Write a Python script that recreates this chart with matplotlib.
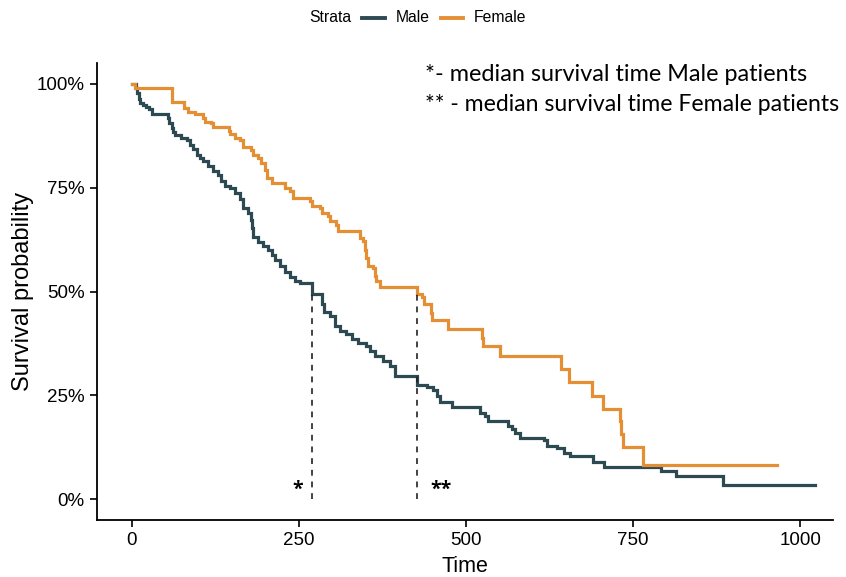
import matplotlib
matplotlib.use("Agg")
import matplotlib.pyplot as plt
from matplotlib.lines import Line2D

# ---- data ----
male_time = [0, 6, 8, 10.5, 12, 16.5, 21, 25.5, 29.5, 54, 56, 59.5, 62, 64.5, 73.5, 82, 87, 92, 97, 102,
             107, 114, 122, 129, 134, 139, 147, 154, 162, 167, 174, 178, 180, 182, 189, 197, 204, 209, 214, 222,
             229, 237, 244, 251, 270, 284, 287, 296, 304, 311, 321, 329, 339, 351, 356, 364, 376, 386, 394, 427,
             442, 451, 456, 461, 479, 521, 528, 533, 563, 568, 573, 581, 616, 621, 636, 646, 656, 690, 707, 791,
             814, 884, 1022]
male_surv = [1.0, .990, .978, .964, .954, .950, .945, .940, .928, .918, .906, .894, .885, .877, .870, .864, .853, .844, .829, .822,
             .815, .803, .791, .781, .767, .755, .748, .736, .722, .702, .690, .673, .654, .630, .618, .609, .601, .589, .577, .561,
             .547, .536, .525, .520, .495, .471, .450, .440, .418, .405, .397, .385, .377, .370, .356, .344, .332, .320, .297, .276,
             .269, .262, .248, .234, .222, .208, .200, .188, .176, .168, .160, .148, .143, .129, .124, .112, .103, .090, .078, .068,
             .055, .035, .035]

female_time = [0, 4.5, 60, 78, 84, 95, 107, 109, 119, 122, 145, 147.5, 154, 162, 167, 179, 182, 189, 194, 199,
               202, 209, 229, 236.5, 241.5, 267, 269.5, 281, 284, 294, 296.5, 306, 309, 341, 346, 349, 351, 354, 361, 364,
               366, 371, 426, 434, 437, 447, 449, 473, 523.5, 526, 551, 641.5, 654.5, 688, 705.5, 730, 732, 734.5, 765, 965]
female_surv = [1.0, .990, .957, .941, .933, .927, .917, .909, .906, .897, .887, .879, .869, .865, .849, .841, .829, .821, .809, .793,
               .773, .760, .748, .741, .725, .719, .705, .701, .689, .681, .669, .661, .645, .629, .621, .601, .581, .561, .557, .537,
               .525, .510, .493, .486, .470, .449, .431, .410, .389, .369, .344, .314, .282, .249, .218, .188, .156, .125, .082, .082]

median_times = [270, 426]
strata = ["Male", "Female"]
colors = ["#2d4a53", "#e58f35"]
x_ticks = [0, 250, 500, 750, 1000]
y_ticks = [0, 0.25, 0.5, 0.75, 1.0]
y_tick_labels = ["0%", "25%", "50%", "75%", "100%"]
note_lines = ["*- median survival time Male patients", "** - median survival time Female patients"]

fig = plt.figure(figsize=(8.46, 5.77), dpi=100)
ax = fig.add_axes([0.1147, 0.0988, 0.87, 0.792])

ax.step(male_time, male_surv, where="post", color=colors[0], lw=2.3, solid_joinstyle="miter")
ax.step(female_time, female_surv, where="post", color=colors[1], lw=2.3, solid_joinstyle="miter")

for t in median_times:
    ax.plot([t, t], [0, 0.5], ls=(0, (3.5, 3.5)), color="#222222", lw=1.2)

ax.text(248, 0.022, "*", ha="center", va="center", fontsize=14, fontweight="bold", family="Open Sans")
ax.text(463, 0.022, "**", ha="center", va="center", fontsize=14, fontweight="bold", family="Open Sans")

# notes: fit each line to the width it has in the reference
renderer = fig.canvas.get_renderer()
note_widths_px = [383, 415]
for line, yv, wpx in zip(note_lines, [1.022, 0.950], note_widths_px):
    t = ax.text(439, yv, line, ha="left", va="center", fontsize=16, family="Lato")
    w = t.get_window_extent(renderer=renderer).width
    t.set_fontsize(16 * wpx / w)

ax.set_xlim(-52, 1049)
ax.set_ylim(-0.05, 1.05)
ax.set_xticks(x_ticks)
ax.set_yticks(y_ticks)
ax.set_yticklabels(y_tick_labels)
for s in ["top", "right"]:
    ax.spines[s].set_visible(False)
for s in ["left", "bottom"]:
    ax.spines[s].set_linewidth(1.3)
    ax.spines[s].set_color("black")
ax.tick_params(axis="both", length=5, width=1.2, labelsize=13.5, colors="black", pad=4)
for lab in ax.get_xticklabels() + ax.get_yticklabels():
    lab.set_family("Liberation Sans")
ax.set_xlabel("Time", fontsize=15.5, family="Liberation Sans", labelpad=5)
ax.set_ylabel("Survival probability", fontsize=17, family="Liberation Sans", labelpad=2)

# legend on top (manual layout)
ly = 1 - 18 / 577
lp = {"fontsize": 11.3, "family": "Liberation Sans", "va": "center", "ha": "left"}
fig.text(309 / 846, ly, "Strata", **lp)
fig.add_artist(Line2D([362 / 846, 385 / 846], [ly, ly], color=colors[0], lw=2.8, transform=fig.transFigure))
fig.text(396 / 846, ly, strata[0], **lp)
fig.add_artist(Line2D([441 / 846, 463 / 846], [ly, ly], color=colors[1], lw=2.8, transform=fig.transFigure))
fig.text(474 / 846, ly, strata[1], **lp)

fig.savefig("out.png", dpi=100)
